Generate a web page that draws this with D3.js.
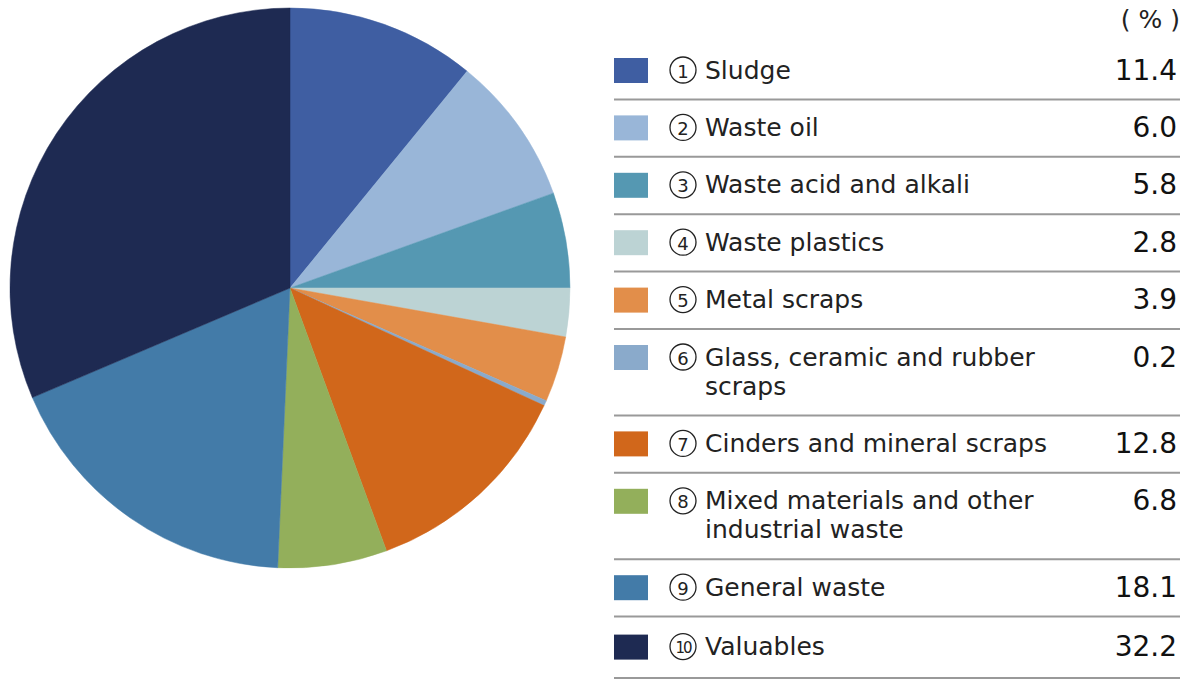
<!DOCTYPE html>
<html>
<head>
<meta charset="utf-8">
<script src="https://cdn.jsdelivr.net/npm/d3@7"></script>
<style>
  body { margin: 0; background: #fff; }
  svg { display: block; font-family: "DejaVu Sans", sans-serif; }
</style>
</head>
<body>
<svg id="chart" width="1200" height="690"></svg>
<script>
// categories as shown in the legend ("\n" marks the line break used in the legend)
const categories = [
  "Sludge",
  "Waste oil",
  "Waste acid and alkali",
  "Waste plastics",
  "Metal scraps",
  "Glass, ceramic and rubber\nscraps",
  "Cinders and mineral scraps",
  "Mixed materials and other\nindustrial waste",
  "General waste",
  "Valuables"
];

// percentages printed in the legend
const percents = [11.4, 6.0, 5.8, 2.8, 3.9, 0.2, 12.8, 6.8, 18.1, 32.2];

// slice shares as drawn in the pie (the drawn pie
// does not follow the printed table exactly, e.g. waste oil is drawn bigger)
const pieShares = [10.9, 8.6, 5.5, 2.8, 3.8, 0.3, 12.5, 6.3, 17.9, 31.4];

const colors = [
  "#3f5ea2", "#99b6d8", "#5598b2", "#bcd3d4", "#e28e4a",
  "#8aaacb", "#d1671b", "#93af5b", "#437ba8", "#1e2a52"
];

const unitLabel = "( % )";

const svg = d3.select("#chart");

// ---- pie ----
const cx = 290, cy = 288, radius = 280;

const pie = d3.pie().sort(null).value(d => d.share);
const arc = d3.arc().innerRadius(0).outerRadius(radius);

const rows = categories.map((c, i) => ({
  num: i + 1,
  lines: c.split("\n"),
  value: percents[i],
  share: pieShares[i],
  color: colors[i]
}));

svg.append("g")
  .attr("transform", `translate(${cx},${cy})`)
  .selectAll("path")
  .data(pie(rows))
  .join("path")
  .attr("d", arc)
  .attr("fill", d => d.data.color)
  .attr("stroke", d => d.data.color)
  .attr("stroke-width", 0.5);

// ---- legend table ----
const legendLeft = 614;
const legendRight = 1180;
const lineStep = 29;
const rowPad = 28;

// cumulative row tops
let rowTop = 42;
rows.forEach((r, i) => {
  r.top = rowTop;
  r.height = rowPad * 2 + (r.lines.length - 1) * lineStep + 1.4;
  if (i === rows.length - 1) r.height += 4; // last row sits a little lower
  rowTop += r.height;
});

svg.append("text")
  .attr("x", legendRight)
  .attr("y", 19)
  .attr("text-anchor", "end")
  .attr("dominant-baseline", "central")
  .attr("font-size", 25)
  .attr("fill", "#222")
  .text(unitLabel);

const row = svg.append("g")
  .selectAll("g")
  .data(rows)
  .join("g")
  .attr("transform", d => `translate(0,${d.top})`);

const midY = d => d.num === 10 ? rowPad + 2 : rowPad;

// colour square
row.append("rect")
  .attr("x", legendLeft)
  .attr("y", d => midY(d) - 12)
  .attr("width", 34)
  .attr("height", 25)
  .attr("fill", d => d.color);

// circled number
row.append("circle")
  .attr("cx", 683)
  .attr("cy", midY)
  .attr("r", 13)
  .attr("fill", "none")
  .attr("stroke", "#222")
  .attr("stroke-width", 1.3);

row.append("text")
  .attr("x", 683)
  .attr("y", d => midY(d) + 1)
  .attr("text-anchor", "middle")
  .attr("dominant-baseline", "central")
  .attr("font-size", d => d.num > 9 ? 15 : 18)
  .attr("letter-spacing", d => d.num > 9 ? -2 : 0)
  .attr("fill", "#222")
  .text(d => d.num);

// label (possibly two lines)
row.append("text")
  .attr("font-size", 25)
  .attr("fill", "#222")
  .selectAll("tspan")
  .data(d => d.lines.map(l => ({ l, d })))
  .join("tspan")
  .attr("x", 705)
  .attr("y", (t, i) => midY(t.d) + i * lineStep)
  .attr("dominant-baseline", "central")
  .text(t => t.l);

// value
row.append("text")
  .attr("x", 1177)
  .attr("y", midY)
  .attr("text-anchor", "end")
  .attr("dominant-baseline", "central")
  .attr("font-size", 28)
  .attr("fill", "#111")
  .text(d => d3.format(".1f")(d.value));

// separator under each row
row.append("line")
  .attr("x1", legendLeft)
  .attr("x2", legendRight)
  .attr("y1", d => d.height)
  .attr("y2", d => d.height)
  .attr("stroke", "#999")
  .attr("stroke-width", 2);
</script>
</body>
</html>
